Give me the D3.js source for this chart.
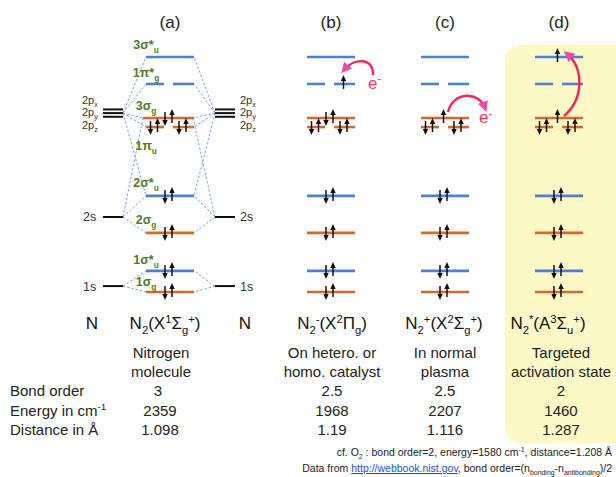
<!DOCTYPE html>
<html><head><meta charset="utf-8">
<script src="https://cdn.jsdelivr.net/npm/d3@7"></script>
<style>body{margin:0;background:#fff}svg{display:block;font-family:"Liberation Sans",Arial,sans-serif}</style>
</head><body><svg id="c" width="616" height="477"></svg>
<script>
// ---------- DATA ----------
const columns = ["(a)", "(b)", "(c)", "(d)"];
const moLevels = ["3σ*_u", "1π*_g", "3σ_g", "1π_u", "2σ*_u", "2σ_g", "1σ*_u", "1σ_g"];
const moEnergy = [10.0, 8.9, 7.51, 7.14, 4.33, 2.82, 1.27, 0.41];
const moKind = ["anti", "anti", "bond", "bond", "anti", "bond", "anti", "bond"];
const moDegenerate = [false, true, false, true, false, false, false, false];
// electrons per sub-orbital, per column
const occA = [[0], [0, 0], [2], [2, 2], [2], [2], [2], [2]];
const occB = [[0], [0, 1], [2], [2, 2], [2], [2], [2], [2]];
const occC = [[0], [0, 0], [1], [2, 2], [2], [2], [2], [2]];
const occD = [[1], [0, 0], [1], [2, 2], [2], [2], [2], [2]];
const aoLevels = ["2p", "2s", "1s"];
const aoEnergy = [7.71, 3.47, 0.65];
const aoSubEnergy = [7.86, 7.71, 7.56];
const aoSubLabels = ["2p_x", "2p_y", "2p_z"];
const aoLinks = [["2p", "3σ*_u"], ["2p", "1π*_g"], ["2p", "3σ_g"], ["2p", "1π_u"], ["2p", "2σ*_u"],
                 ["2s", "3σ_g"], ["2s", "2σ*_u"], ["2s", "2σ_g"], ["1s", "1σ*_u"], ["1s", "1σ_g"]];
const species = ["N_2(X^1Σ_g^+)", "N_2^-(X^2Π_g)", "N_2^+(X^2Σ_g^+)", "N_2^*(A^3Σ_u^+)"];
const descLine1 = ["Nitrogen", "On hetero. or", "In normal", "Targeted"];
const descLine2 = ["molecule", "homo. catalyst", "plasma", "activation state"];
const rowLabels = ["Bond order", "Energy in cm^{-1}", "Distance in  Å"];
const bondOrder = ["3", "2.5", "2.5", "2"];
const vibEnergy = [2359, 1968, 2207, 1460];
const distance = ["1.098", "1.19", "1.116", "1.287"];
const note1 = "cf. O_2 : bond order=2, energy=1580 cm^{-1}, distance=1.208  Å";
const note2a = "Data from ", note2link = "http://webbook.nist.gov", note2b = ", bond order=(n_{bonding}-n_{antibonding})/2";

// ---------- LAYOUT ----------
const svg = d3.select("#c");
const BLUE = "#4c80d8", ORANGE = "#d3692d", GREEN = "#4f7a28", DASH = "#7ba2e4", RED = "#f2255a";
const x = d3.scaleOrdinal().domain(columns).range([170, 331, 445, 559]);
const y = d3.scaleLinear().domain([0, 10]).range([302, 57]);
const HW = 24;
const occ = [occA, occB, occC, occD];

function rich(t, s, fs) {
  const re = /([_^])(\{[^}]*\}|.)|([^_^]+)/g;
  let m, cur = 0;
  while ((m = re.exec(s))) {
    let txt, shift = 0, size = fs;
    if (m[3] !== undefined) txt = m[3];
    else { txt = m[2].startsWith("{") ? m[2].slice(1, -1) : m[2]; shift = m[1] === "_" ? fs * 0.3 : -fs * 0.38; size = fs * 0.66; }
    t.append("tspan").attr("dy", shift - cur).attr("font-size", size).text(txt);
    cur = shift;
  }
  if (cur) t.append("tspan").attr("dy", -cur).text("");
  return t;
}

// yellow highlight
svg.append("rect").attr("x", x("(d)") - 54).attr("y", 45).attr("width", 140).attr("height", 398)
  .attr("rx", 16).attr("fill", "#fcf9c6");

// column headers
svg.selectAll("text.hdr").data(columns).join("text").attr("class", "hdr")
  .attr("x", d => x(d)).attr("y", 28).attr("text-anchor", "middle").attr("font-size", 17).attr("fill", "#222").text(d => d);

const g = svg.append("g");
const xa = x("(a)");
const aoL = [xa - 67, xa - 47], aoR = [xa + 45, xa + 65];

// dashed correlation lines
function moEnds(i) {
  return moDegenerate[i] ? [x("(a)") - HW, x("(a)") + HW] : [x("(a)") - HW - (moLevels[i] === "3σ_g" ? 3 : 0), x("(a)") + HW];
}
aoLinks.forEach(([ao, mo]) => {
  const ai = aoLevels.indexOf(ao), mi = moLevels.indexOf(mo);
  const e = moEnds(mi);
  const yy = y(aoEnergy[ai]), ym = y(moEnergy[mi]);
  g.append("line").attr("x1", aoL[1]).attr("y1", yy).attr("x2", e[0]).attr("y2", ym)
    .attr("stroke", DASH).attr("stroke-width", 1).attr("stroke-dasharray", "2.5,1.8");
  g.append("line").attr("x1", aoR[0]).attr("y1", yy).attr("x2", e[1] - (moLevels[mi] === "3σ_g" ? 1 : 0)).attr("y2", ym)
    .attr("stroke", DASH).attr("stroke-width", 1).attr("stroke-dasharray", "2.5,1.8");
});

// atomic orbitals
aoLevels.forEach((ao, i) => {
  const es = ao === "2p" ? aoSubEnergy : [aoEnergy[i]];
  es.forEach(e => {
    [aoL, aoR].forEach(r => g.append("line").attr("x1", r[0]).attr("x2", r[1]).attr("y1", y(e)).attr("y2", y(e))
      .attr("stroke", "#111").attr("stroke-width", 2));
  });
  if (ao === "2p") {
    aoSubLabels.forEach((lab, k) => {
      [aoL[0] - 21, aoR[1] + 5].forEach(px =>
        rich(g.append("text").attr("x", px).attr("y", y(aoEnergy[i]) + (k - 1) * 12.5 + 3).attr("font-size", 11).attr("fill", "#333"), lab, 11));
    });
  } else {
    [aoL[0] - 20, aoR[1] + 5].forEach(px =>
      g.append("text").attr("x", px).attr("y", y(aoEnergy[i]) + 4.5).attr("font-size", 12.5).attr("fill", "#333").text(ao));
  }
});

// electron arrows
function spin(px, py, up) {
  const s = g.append("g");
  if (up) {
    s.append("line").attr("x1", px).attr("x2", px).attr("y1", py + 5).attr("y2", py - 4).attr("stroke", "#111").attr("stroke-width", 1.5);
    s.append("path").attr("d", `M${px},${py - 9}L${px - 2.7},${py - 3}L${px + 2.7},${py - 3}Z`).attr("fill", "#111");
  } else {
    s.append("line").attr("x1", px).attr("x2", px).attr("y1", py - 6).attr("y2", py + 3).attr("stroke", "#111").attr("stroke-width", 1.5);
    s.append("path").attr("d", `M${px},${py + 8}L${px - 2.7},${py + 2}L${px + 2.7},${py + 2}Z`).attr("fill", "#111");
  }
}

// molecular orbitals
columns.forEach((col, ci) => {
  const cx = x(col);
  moLevels.forEach((lv, i) => {
    const yy = y(moEnergy[i]);
    const color = moKind[i] === "anti" ? BLUE : ORANGE;
    const segs = moDegenerate[i] ? [[cx - HW, cx - 6], [cx + 3, cx + HW]] : [[cx - HW - (ci === 0 && lv === "3σ_g" ? 3 : 0), cx + HW]];
    segs.forEach((s, k) => {
      g.append("line").attr("x1", s[0]).attr("x2", s[1]).attr("y1", yy).attr("y2", yy).attr("stroke", color).attr("stroke-width", 2.6);
      const n = occ[ci][i][k];
      const mid = moDegenerate[i] ? (s[0] + s[1]) / 2 - 1 : cx - 1.5;
      if (n === 2) { spin(mid - 3.5, yy, false); spin(mid + 3.5, yy, true); }
      else if (n === 1) spin(mid, yy, true);
    });
  });
});

// MO labels (column a)
const labelDy = [-8, -7, -8, 23, -9, -9, -7, -6];
moLevels.forEach((lv, i) => {
  rich(g.append("text").attr("x", xa - HW).attr("y", y(moEnergy[i]) + labelDy[i]).attr("text-anchor", "middle")
    .attr("font-size", 12.5).attr("font-weight", "bold").attr("fill", GREEN), lv, 12.5);
});

// red electron-transfer arrows
svg.append("defs").append("marker").attr("id", "ah").attr("viewBox", "0 0 10 10").attr("refX", 6).attr("refY", 5)
  .attr("markerWidth", 4.4).attr("markerHeight", 4.4).attr("orient", "auto-start-reverse")
  .append("path").attr("d", "M0,0L10,5L0,10Z").attr("fill", "#e84aa8");
const yPiStar = y(moEnergy[1]), ySig = y(moEnergy[2]), ySigStar = y(moEnergy[0]);
const xb = x("(b)"), xc = x("(c)"), xd = x("(d)");
function redArrow(d) {
  svg.append("path").attr("d", d).attr("fill", "none").attr("stroke", RED).attr("stroke-width", 2.4).attr("marker-end", "url(#ah)");
}
redArrow(`M${xb + 42},${yPiStar - 9} C${xb + 43},${yPiStar - 26} ${xb + 24},${yPiStar - 27} ${xb + 13},${yPiStar - 14}`);
redArrow(`M${xc + 3},${ySig - 6} C${xc + 8},${ySig - 27} ${xc + 34},${ySig - 27} ${xc + 40},${ySig - 10}`);
redArrow(`M${xd + 5},${ySig - 2} C${xd + 26},${ySig - 20} ${xd + 24},${ySigStar + 10} ${xd + 8},${ySigStar - 3}`);
[[xb + 37, yPiStar + 5], [xc + 34, ySig + 5]].forEach(([px, py]) =>
  rich(svg.append("text").attr("x", px).attr("y", py).attr("font-size", 17).attr("fill", "#f0365a"), "e^-", 17));

// species row
const specX = [165, 332, 444, 548];
const tabX = [160, 332, 445, 561];
svg.append("text").attr("x", 92).attr("y", 329).attr("text-anchor", "middle").attr("font-size", 17).attr("fill", "#111").text("N");
svg.append("text").attr("x", 245).attr("y", 329).attr("text-anchor", "middle").attr("font-size", 17).attr("fill", "#111").text("N");
species.forEach((s, i) => rich(svg.append("text").attr("x", specX[i]).attr("y", 329).attr("text-anchor", "middle")
  .attr("font-size", 17).attr("fill", "#111"), s, 17));
[descLine1, descLine2].forEach((arr, r) => arr.forEach((s, i) =>
  svg.append("text").attr("x", tabX[i] + (i === 0 ? 1 : 0)).attr("y", 358 + r * 19).attr("text-anchor", "middle").attr("font-size", 15).attr("fill", "#222").text(s)));
rowLabels.forEach((s, r) => rich(svg.append("text").attr("x", 10).attr("y", 396 + r * 19.5).attr("font-size", 15).attr("fill", "#222"), s, 15));
[bondOrder, vibEnergy, distance].forEach((arr, r) => arr.forEach((v, i) =>
  svg.append("text").attr("x", tabX[i] - (i === 0 && r === 0 ? 2 : 0)).attr("y", 396 + r * 19.5).attr("text-anchor", "middle").attr("font-size", 15).attr("fill", "#222").text(v)));

// footnotes
rich(svg.append("text").attr("x", 612).attr("y", 456).attr("text-anchor", "end").attr("font-size", 10.5).attr("fill", "#222"), note1, 10.5);
const t2 = svg.append("text").attr("x", 612).attr("y", 472).attr("text-anchor", "end").attr("font-size", 10.5).attr("fill", "#222");
rich(t2, note2a, 10.5);
t2.append("tspan").attr("fill", "#1f4fd0").attr("text-decoration", "underline").text(note2link);
rich(t2, note2b, 10.5);
</script></body></html>
